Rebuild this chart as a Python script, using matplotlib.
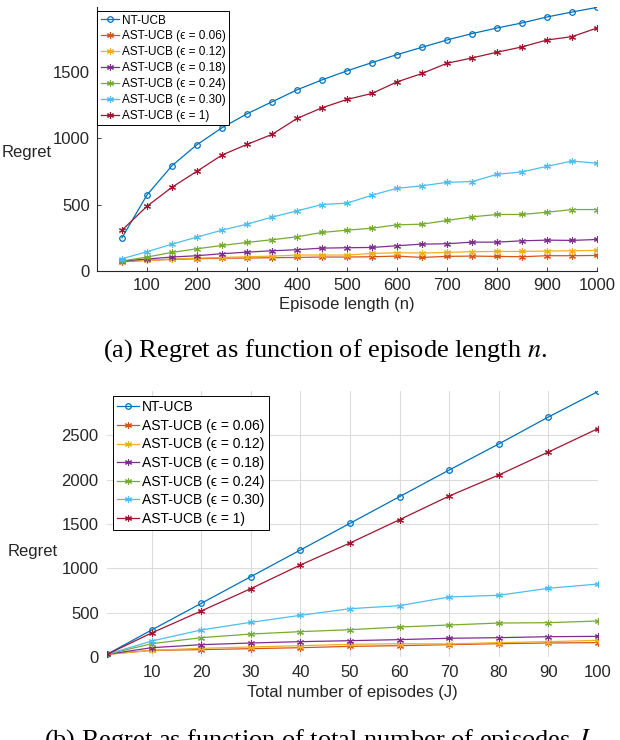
import matplotlib
matplotlib.use("Agg")
import matplotlib.pyplot as plt

plt.rcParams['font.family'] = ['Liberation Sans', 'DejaVu Sans']
plt.rcParams['mathtext.fontset'] = 'stix'

# ---------------- data ----------------
labels = ["NT-UCB", "AST-UCB (\u03f5 = 0.06)", "AST-UCB (\u03f5 = 0.12)",
          "AST-UCB (\u03f5 = 0.18)", "AST-UCB (\u03f5 = 0.24)",
          "AST-UCB (\u03f5 = 0.30)", "AST-UCB (\u03f5 = 1)"]
colors = ["#0072BD", "#D95319", "#EDB120", "#7E2F8E", "#77AC30", "#4DBEEE", "#A2142F"]

n_vals = [50, 100, 150, 200, 250, 300, 350, 400, 450, 500,
          550, 600, 650, 700, 750, 800, 850, 900, 950, 1000]
a_nt = [250, 572, 792, 950, 1077, 1182, 1272, 1362, 1437, 1505,
        1567, 1627, 1682, 1737, 1785, 1827, 1865, 1910, 1947, 1982]
a_e06 = [70, 80, 87, 92, 97, 97, 100, 102, 105, 105,
         107, 112, 102, 110, 112, 110, 107, 115, 115, 117]
a_e12 = [77, 80, 90, 97, 102, 107, 112, 120, 120, 120,
         132, 137, 135, 140, 145, 147, 147, 150, 152, 155]
a_e18 = [75, 90, 105, 115, 130, 142, 152, 160, 172, 175,
         177, 190, 202, 205, 217, 217, 227, 232, 230, 237]
a_e24 = [75, 105, 140, 167, 192, 215, 235, 257, 290, 307,
         322, 347, 352, 380, 407, 425, 425, 442, 462, 462]
a_e30 = [92, 145, 202, 255, 307, 352, 405, 452, 500, 510,
         570, 622, 640, 667, 672, 727, 745, 787, 827, 810]
a_e1 = [307, 487, 630, 750, 872, 952, 1027, 1147, 1227, 1290,
        1335, 1422, 1485, 1562, 1602, 1645, 1685, 1737, 1762, 1827]

j_vals = [1, 10, 20, 30, 40, 50, 60, 70, 80, 90, 100]
b_nt = [30, 305, 605, 906, 1207, 1508, 1809, 2109, 2403, 2707, 2995]
b_e06 = [30, 75, 83, 94, 105, 120, 128, 139, 150, 158, 162]
b_e12 = [30, 75, 98, 113, 128, 143, 150, 147, 162, 173, 188]
b_e18 = [30, 105, 139, 158, 173, 184, 196, 211, 218, 229, 233]
b_e24 = [30, 150, 218, 259, 286, 308, 338, 361, 383, 387, 406]
b_e30 = [30, 180, 305, 391, 470, 545, 579, 677, 696, 775, 823]
b_e1 = [30, 271, 519, 771, 1038, 1286, 1549, 1816, 2053, 2312, 2576]

a_xticks = [100, 200, 300, 400, 500, 600, 700, 800, 900, 1000]
a_yticks = [0, 500, 1000, 1500]
b_xticks = [10, 20, 30, 40, 50, 60, 70, 80, 90, 100]
b_yticks = [0, 500, 1000, 1500, 2000, 2500]

W, H = 620, 740
fig = plt.figure(figsize=(W / 100, H / 100), dpi=100)

def px_axes(l, r, t, b):
    return fig.add_axes([l / W, (H - b) / H, (r - l) / W, (b - t) / H])

tc = "#262626"
ASTER = (6, 2, 0)

def draw(ax, x, series):
    for i, (y, lab, c) in enumerate(zip(series, labels, colors)):
        if i == 0:
            ax.plot(x, y, color=c, lw=0.9, marker='o', ms=4.0, mfc='none',
                    mew=0.9, label=lab)
        else:
            ax.plot(x, y, color=c, lw=0.9, marker=ASTER, ms=5, mew=0.8, label=lab)

# ---------------- top chart ----------------
ax1 = px_axes(97, 597, 7, 271)
draw(ax1, n_vals, [a_nt, a_e06, a_e12, a_e18, a_e24, a_e30, a_e1])
ax1.set_xlim(0, 1000)
ax1.set_ylim(0, 1985)
ax1.set_xticks(a_xticks)
ax1.set_yticks(a_yticks)
for s in ['top', 'right']:
    ax1.spines[s].set_visible(False)
for s in ['left', 'bottom']:
    ax1.spines[s].set_color(tc)
    ax1.spines[s].set_linewidth(0.8)
ax1.tick_params(direction='in', length=3, width=0.6, colors=tc, labelsize=12, pad=5)
ax1.set_xlabel("Episode length (n)", fontsize=12, color=tc, labelpad=3)
ax1.set_ylabel("Regret", fontsize=12, color=tc, rotation=0, ha='center', va='center')
ax1.yaxis.set_label_coords(-0.14, 0.45)
leg1 = ax1.legend(loc='upper left', bbox_to_anchor=(0.0, 0.985), borderaxespad=0,
                  fontsize=8.5, frameon=True, fancybox=False, framealpha=1,
                  edgecolor='black', handlelength=1.6, handletextpad=0.2,
                  labelspacing=0.33, borderpad=0.3)
leg1.get_frame().set_linewidth(0.7)

# ---------------- bottom chart ----------------
ax2 = px_axes(107, 598, 391, 657)
draw(ax2, j_vals, [b_nt, b_e06, b_e12, b_e18, b_e24, b_e30, b_e1])
ax2.set_xlim(1, 100)
ax2.set_ylim(0, 3000)
ax2.set_xticks(b_xticks)
ax2.set_yticks(b_yticks)
for s in ax2.spines.values():
    s.set_visible(False)
ax2.grid(True, color='#dcdcdc', lw=0.8)
ax2.set_axisbelow(True)
ax2.tick_params(direction='in', length=0, colors=tc, labelsize=12, pad=6)
ax2.set_xlabel("Total number of episodes (J)", fontsize=12, color=tc, labelpad=3)
ax2.set_ylabel("Regret", fontsize=12, color=tc, rotation=0, ha='center', va='center')
ax2.yaxis.set_label_coords(-0.151, 0.398)
leg2 = ax2.legend(loc='upper left', bbox_to_anchor=(0.012, 0.981), borderaxespad=0,
                  fontsize=10, frameon=True, fancybox=False, framealpha=1,
                  edgecolor='black', handlelength=1.6, handletextpad=0.2,
                  labelspacing=0.33, borderpad=0.3)
leg2.get_frame().set_linewidth(0.7)

# ---------------- captions ----------------
fig.text(325 / W, (H - 357) / H, "(a) Regret as function of episode length $n$.",
         family='Liberation Serif', fontsize=19, ha='center', va='baseline')
fig.text(320 / W, (H - 747) / H, "(b) Regret as function of total number of episodes $J$.",
         family='Liberation Serif', fontsize=19, ha='center', va='baseline')

fig.savefig("out.png", dpi=100)
